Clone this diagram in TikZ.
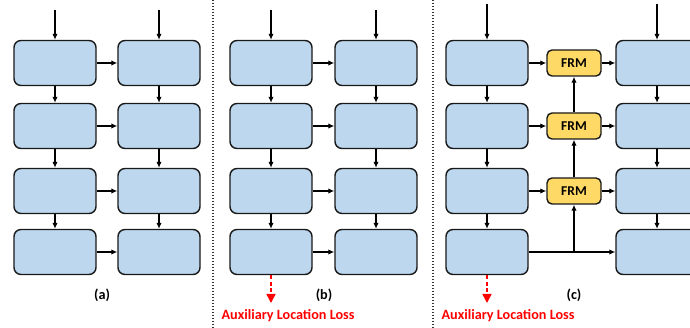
\documentclass[tikz,border=0pt]{standalone}
\usepackage{fontspec}
\setmainfont{Carlito}
\usetikzlibrary{arrows.meta}

\definecolor{blkblue}{HTML}{BDD7EE}
\definecolor{frmyellow}{HTML}{FFD966}

\tikzset{
  blk/.style={draw=black!90,fill=blkblue,line width=1.4pt,rounded corners=7pt,minimum width=82pt,minimum height=45pt,inner sep=0pt},
  frm/.style={draw=black!90,fill=frmyellow,line width=1.4pt,rounded corners=5pt,minimum width=54pt,minimum height=26pt,inner sep=0pt,font=\bfseries\fontsize{13.5}{14}\selectfont},
  arr/.style={-{Latex[length=6pt,width=5.5pt]},line width=1.4pt},
  loss/.style={-{Triangle[length=9pt,width=9pt]},red,line width=1.5pt,dash pattern=on 4pt off 2.5pt},
  sep/.style={black!80,line width=1.3pt,dash pattern=on 1.3pt off 1.7pt},
  lbl/.style={font=\bfseries\fontsize{14.2}{15}\selectfont}
}

\begin{document}
\begin{tikzpicture}[x=1pt,y=-1pt]
\clip (0,0) rectangle (690,328);
\fill[white] (0,0) rectangle (690,328);

% panels (a) and (b): two columns of four blocks
\foreach \p/\xl/\xr in {a/55/159,b/271/376}{
  \foreach \r/\y in {1/63,2/126,3/191,4/252}{
    \node[blk] (\p l\r) at (\xl,\y) {};
    \node[blk] (\p r\r) at (\xr,\y) {};
    \draw[arr] (\p l\r.east) -- (\p r\r.west);
  }
  \coordinate (\p inl) at (\xl,10);
  \coordinate (\p inr) at (\xr,10);
  \draw[arr] (\p inl) -- (\p l1.north);
  \draw[arr] (\p inr) -- (\p r1.north);
  \foreach \r/\s in {1/2,2/3,3/4}{
    \draw[arr] (\p l\r.south) -- (\p l\s.north);
    \draw[arr] (\p r\r.south) -- (\p r\s.north);
  }
}

% panel (c): blocks joined through the FRM modules
\foreach \r/\y in {1/63,2/126,3/191,4/252}{
  \node[blk] (cl\r) at (487,\y) {};
  \node[blk] (cr\r) at (657,\y) {};
}
\coordinate (c inl) at (487,4);
\coordinate (c inr) at (657,4);
\draw[arr] (c inl) -- (cl1.north);
\draw[arr] (c inr) -- (cr1.north);
\foreach \r/\s in {1/2,2/3,3/4}{
  \draw[arr] (cl\r.south) -- (cl\s.north);
  \draw[arr] (cr\r.south) -- (cr\s.north);
}
\foreach \r/\y in {1/63,2/126,3/191}{
  \node[frm] (frm\r) at (574,\y) {FRM};
  \draw[arr] (cl\r.east |- frm\r) -- (frm\r.west);
  \draw[arr] (frm\r.east) -- (cr\r.west |- frm\r);
}
\coordinate (split) at (frm3.south |- cl4.east);
\draw[arr] (cl4.east) -- (cr4.west);
\draw[arr] (split) -- (frm3.south);
\draw[arr] (frm3.north) -- (frm2.south);
\draw[arr] (frm2.north) -- (frm1.south);

% auxiliary loss branches
\coordinate (b loss) at (bl4.south |- 0,303);
\coordinate (c loss) at (cl4.south |- 0,303);
\draw[loss] (bl4.south) -- (b loss);
\draw[loss] (cl4.south) -- (c loss);
\node[lbl,red,anchor=west] (b aux) at (218,316) {Auxiliary Location Loss};
\node[lbl,red,anchor=west] (c aux) at (438,316) {Auxiliary Location Loss};

% captions
\node[lbl] (cap a) at (102,295) {(a)};
\node[lbl] (cap b) at (324,295) {(b)};
\node[lbl] (cap c) at (574,295) {(c)};

% separators
\draw[sep] (213,0) -- (213,328);
\draw[sep] (433,0) -- (433,328);
\end{tikzpicture}
\end{document}
